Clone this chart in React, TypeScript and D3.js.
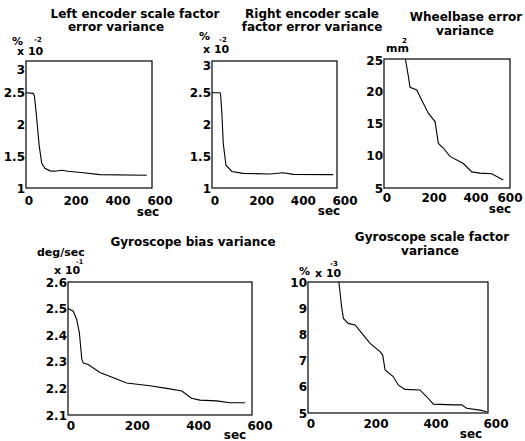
import React from 'react';
import * as d3 from 'd3';

// values (time in sec)
const xTicks = [0, 200, 400, 600];

const leftEncTime = [0, 35, 40, 48, 63, 75, 90, 114, 138, 170, 200, 273, 352, 575];
const leftEncVar = [2.5, 2.49, 2.45, 2.2, 1.66, 1.39, 1.31, 1.27, 1.265, 1.28, 1.265, 1.24, 1.21, 1.2];

const rightEncTime = [0, 38, 41, 47, 54, 67, 95, 150, 278, 342, 390, 582];
const rightEncVar = [2.5, 2.5, 2.48, 2.2, 1.7, 1.36, 1.26, 1.23, 1.22, 1.24, 1.215, 1.21];

const encTicks = [1, 1.5, 2, 2.5, 3];

const wheelTime = [102, 116, 124, 156, 180, 211, 243, 259, 282, 314, 378, 418, 457, 513, 568];
const wheelVar = [25, 22.3, 20.6, 20.2, 18.6, 16.6, 15.3, 11.9, 11.2, 9.9, 8.8, 7.5, 7.3, 7.2, 6.25];
const wheelTicks = [5, 10, 15, 20, 25];

const gyroBiasTime = [0, 17, 28, 37, 45, 50, 66, 104, 148, 191, 267, 322, 371, 403, 430, 485, 528, 577];
const gyroBiasVar = [2.5, 2.49, 2.46, 2.41, 2.31, 2.295, 2.29, 2.26, 2.24, 2.22, 2.21, 2.2, 2.19, 2.163, 2.156, 2.153, 2.146, 2.146];
const gyroBiasTicks = [2.1, 2.2, 2.3, 2.4, 2.5, 2.6];

const gyroScaleTime = [103, 112, 118, 134, 157, 184, 207, 240, 249, 257, 284, 301, 323, 373, 396, 418, 484, 512, 529, 573, 596];
const gyroScaleVar = [10, 9.06, 8.61, 8.42, 8.36, 7.98, 7.66, 7.34, 7.21, 6.64, 6.39, 6.07, 5.9, 5.88, 5.62, 5.34, 5.31, 5.31, 5.18, 5.11, 5.05];
const gyroScaleTicks = [5, 6, 7, 8, 9, 10];

const FONT = '"DejaVu Sans", sans-serif';

type TextItem = { text: string; x: number; y: number; size?: number; anchor?: string };

type PanelProps = {
  box: [number, number, number, number]; // left, top, right, bottom
  time: number[];
  values: number[];
  yDomain: [number, number];
  yTicks: number[];
  topShift?: number;
  tickBase: number;
  secPos: [number, number];
  texts: TextItem[];
};

function Panel({ box, time, values, yDomain, yTicks, topShift = 0, tickBase, secPos, texts }: PanelProps) {
  const [l, t, r, b] = box;
  const x = d3.scaleLinear().domain([0, 600]).range([l, r]);
  const y = d3.scaleLinear().domain(yDomain).range([b, t]);
  const pts = time.map((d, i) => [d, values[i]] as [number, number]);
  const line = d3.line<[number, number]>().x(d => x(d[0])).y(d => y(d[1]));
  return (
    <g>
      <rect x={l} y={t} width={r - l} height={b - t} fill="none" stroke="#000" strokeWidth={1.2} />
      <path d={line(pts) || ''} fill="none" stroke="#000" strokeWidth={1.1} />
      {yTicks.map(v => (
        <text
          key={'y' + v}
          x={l - 1}
          y={y(v) + 4.5 + (v === yDomain[1] ? topShift : 0)}
          textAnchor="end"
          fontSize={12}
          fontWeight="bold"
        >
          {String(v)}
        </text>
      ))}
      {xTicks.map(v => (
        <text
          key={'x' + v}
          x={Math.min(x(v) + (v === 0 ? 3 : 8), 510)}
          y={tickBase}
          textAnchor="middle"
          fontSize={12}
          fontWeight="bold"
        >
          {String(v)}
        </text>
      ))}
      <text x={secPos[0]} y={secPos[1]} textAnchor="middle" fontSize={12} fontWeight="bold">sec</text>
      {texts.map((d, i) => (
        <text key={i} x={d.x} y={d.y} textAnchor={d.anchor || 'middle'} fontSize={d.size || 12} fontWeight="bold">
          {d.text}
        </text>
      ))}
    </g>
  );
}

export default function App() {
  return (
    <svg width={525} height={441} style={{ position: 'absolute', left: 0, top: 0, background: '#fff' }} fontFamily={FONT}>
      <rect width={525} height={441} fill="#fff" />
      <Panel
        box={[26, 61, 152, 188]}
        time={leftEncTime}
        values={leftEncVar}
        yDomain={[1, 3]}
        yTicks={encTicks}
        topShift={8}
        tickBase={205}
        secPos={[148, 216]}
        texts={[
          { text: 'Left encoder scale factor', x: 135, y: 18 },
          { text: 'error variance', x: 116, y: 31 },
          { text: '%', x: 12, y: 45, size: 11, anchor: 'start' },
          { text: '-2', x: 34, y: 42, size: 7, anchor: 'start' },
          { text: 'x 10', x: 17, y: 55, size: 11, anchor: 'start' },
        ]}
      />
      <Panel
        box={[212, 61, 337, 188]}
        time={rightEncTime}
        values={rightEncVar}
        yDomain={[1, 3]}
        yTicks={encTicks}
        topShift={4}
        tickBase={205}
        secPos={[329, 215]}
        texts={[
          { text: 'Right encoder scale', x: 312, y: 18 },
          { text: 'factor error variance', x: 312, y: 31 },
          { text: '%', x: 199, y: 40, size: 11, anchor: 'start' },
          { text: '-2', x: 219, y: 42, size: 7, anchor: 'start' },
          { text: 'x 10', x: 203, y: 53, size: 11, anchor: 'start' },
        ]}
      />
      <Panel
        box={[384, 59, 510, 188]}
        time={wheelTime}
        values={wheelVar}
        yDomain={[5, 25]}
        yTicks={wheelTicks}
        topShift={1}
        tickBase={202}
        secPos={[500, 213]}
        texts={[
          { text: 'Wheelbase error', x: 466, y: 21 },
          { text: 'variance', x: 465, y: 35 },
          { text: 'mm', x: 386, y: 52, size: 11, anchor: 'start' },
          { text: '2', x: 402, y: 43, size: 7, anchor: 'start' },
        ]}
      />
      <Panel
        box={[68, 282, 252, 415]}
        time={gyroBiasTime}
        values={gyroBiasVar}
        yDomain={[2.1, 2.6]}
        yTicks={gyroBiasTicks}
        tickBase={430}
        secPos={[235, 439]}
        texts={[
          { text: 'Gyroscope bias variance', x: 193, y: 246 },
          { text: 'deg/sec', x: 37, y: 256, size: 11, anchor: 'start' },
          { text: '-1', x: 76, y: 264, size: 6.5, anchor: 'start' },
          { text: 'x 10', x: 54, y: 274, size: 11, anchor: 'start' },
        ]}
      />
      <Panel
        box={[308, 282, 488, 413]}
        time={gyroScaleTime}
        values={gyroScaleVar}
        yDomain={[5, 10]}
        yTicks={gyroScaleTicks}
        tickBase={428}
        secPos={[471, 438]}
        texts={[
          { text: 'Gyroscope scale factor', x: 432, y: 241 },
          { text: 'variance', x: 430, y: 255 },
          { text: '%', x: 299, y: 275, size: 11, anchor: 'start' },
          { text: 'x 10', x: 315, y: 277, size: 11, anchor: 'start' },
          { text: '-3', x: 330, y: 266, size: 7, anchor: 'start' },
        ]}
      />
    </svg>
  );
}
